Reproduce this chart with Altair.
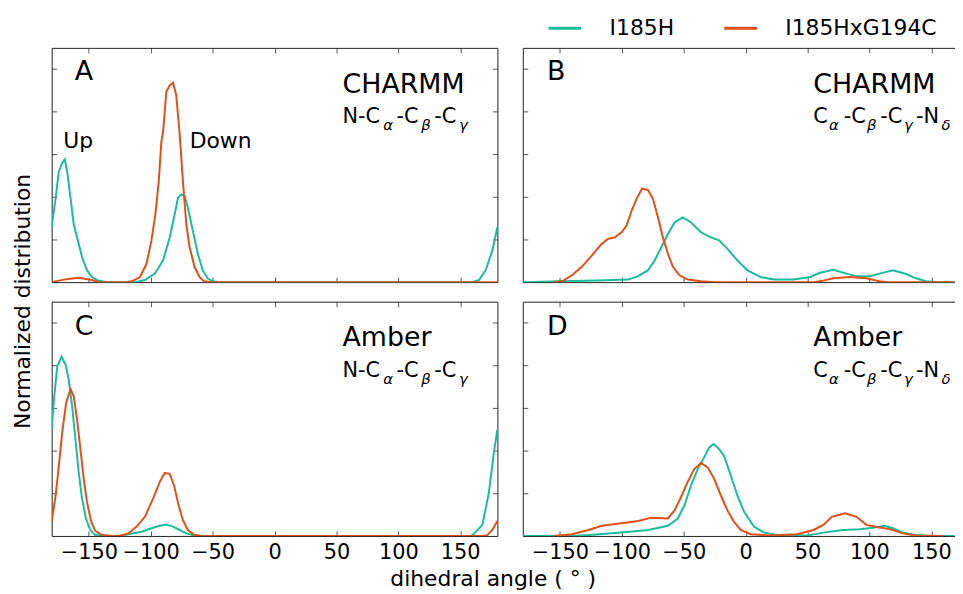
import altair as alt
import pandas as pd

FONT = "DejaVu Sans"
SERIES = ["I185H", "I185HxG194C"]
COLORS = ["#1abc9c", "#e0501a"]

# ---------------- data (dihedral angle in degrees, normalized distribution in tick units) ----------------
# Panel A: CHARMM, N-Ca-Cb-Cg
A_teal_x = [-180, -176.8, -174.2, -171.5, -169.4, -167.5, -164.8, -162.2, -158.2, -155.5, -151.5, -147.5,
            -142, -135, -112, -104.7, -96.7, -90, -84.7, -80.6, -78, -75.3, -72.6, -70, -66, -62, -58, -54,
            -50, -45, 160, 165.2, 170.5, 175.9, 180]
A_teal_y = [1.29, 1.98, 2.60, 2.80, 2.88, 2.60, 1.98, 1.36, 0.90, 0.59, 0.28, 0.12,
            0.03, 0.0, 0.0, 0.05, 0.20, 0.51, 1.05, 1.60, 1.98, 2.06, 2.02, 1.75, 1.21, 0.67, 0.28, 0.09,
            0.02, 0.0, 0.0, 0.05, 0.28, 0.74, 1.29]
A_orange_x = [-180, -175, -168, -158.2, -147.5, -142, -120, -115.4, -108.7, -103.4, -99.4, -96.2, -93.5,
              -91.4, -90, -87.4, -84.7, -82, -79.4, -76.7, -74, -71.3, -68.6, -64.6, -60.6, -57, -50, 180]
A_orange_y = [0.0, 0.03, 0.07, 0.10, 0.05, 0.0, 0.0, 0.02, 0.12, 0.43, 0.98, 1.60, 2.37,
              3.30, 3.53, 4.47, 4.62, 4.68, 4.39, 3.50, 2.37, 1.36, 0.82, 0.36, 0.12, 0.02, 0.0, 0.0]

# Panel B: CHARMM, Ca-Cb-Cg-Nd
B_teal_x = [-180, -150, -120, -95, -86.8, -78.8, -73.5, -68.1, -62.8, -57.4, -50.8, -44.1, -36.1, -28.1,
            -21.4, -14.7, -6.7, 1.3, 12, 22.7, 38.8, 52.1, 60.1, 70.8, 81.5, 89.5, 100.2, 108.2, 118.9,
            129.6, 137.6, 145.6, 155, 180]
B_teal_y = [0.0, 0.02, 0.04, 0.06, 0.14, 0.28, 0.51, 0.82, 1.13, 1.40, 1.52, 1.40, 1.17, 1.05,
            0.98, 0.78, 0.51, 0.28, 0.12, 0.06, 0.06, 0.12, 0.22, 0.29, 0.20, 0.14, 0.14, 0.20, 0.28,
            0.19, 0.09, 0.02, 0.0, 0.0]
B_orange_x = [-155, -148.3, -140.3, -132.3, -124.2, -116.2, -110.9, -105.6, -100.2, -96.2, -92.2, -88.2,
              -83.6, -78.8, -74.8, -70.8, -66.8, -62.8, -58.8, -53.4, -46.8, -36, -25, 55, 62, 70.8, 84.2,
              97.6, 108, 115, 180]
B_orange_y = [0.0, 0.02, 0.16, 0.36, 0.63, 0.90, 1.02, 1.05, 1.17, 1.33, 1.67, 1.95,
              2.20, 2.16, 1.95, 1.52, 1.05, 0.67, 0.36, 0.16, 0.06, 0.02, 0.0, 0.0, 0.03, 0.09, 0.12,
              0.09, 0.02, 0.0, 0.0]

# Panel C: Amber, N-Ca-Cb-Cg
C_teal_x = [-180, -178.2, -175.5, -172, -168.8, -166.2, -163.5, -160.8, -158.2, -155.5, -152.3, -148.8,
            -144.8, -135, -125, -118, -107.4, -99.4, -92.7, -87.4, -82, -76.6, -71.3, -66, -60, 158,
            159.8, 167.9, 173.2, 177.2, 180]
C_teal_y = [2.50, 3.20, 3.98, 4.21, 4.02, 3.67, 3.05, 2.27, 1.50, 0.88, 0.41, 0.14,
            0.02, 0.0, 0.0, 0.04, 0.10, 0.18, 0.24, 0.27, 0.22, 0.14, 0.06, 0.02, 0.0, 0.0,
            0.02, 0.26, 1.03, 1.96, 2.50]
C_orange_x = [-180, -176.8, -174.2, -171.5, -168.3, -164.8, -162.2, -159.5, -156.8, -154.1, -151.5, -148,
              -144.8, -139.5, -130, -124, -118, -111.4, -104.7, -98, -92.7, -88.7, -84.7, -81.2, -77.5,
              -74, -70, -64.6, -58, 168, 171.9, 175.9, 180]
C_orange_y = [0.33, 0.95, 1.65, 2.43, 3.13, 3.45, 3.28, 2.74, 2.04, 1.34, 0.80, 0.33,
              0.12, 0.02, 0.0, 0.01, 0.06, 0.22, 0.45, 0.88, 1.27, 1.48, 1.46, 1.19, 0.72,
              0.37, 0.14, 0.02, 0.0, 0.0, 0.02, 0.14, 0.35]

# Panel D: Amber, Ca-Cb-Cg-Nd
D_teal_x = [-180, -140, -126.9, -100.2, -78.8, -62.8, -54.8, -49.4, -44.1, -38.7, -33.4, -29.4, -25.9,
            -21.4, -17.4, -12, -6.7, -1.3, 6.7, 14.7, 24, 49.4, 65.5, 78.8, 92.2, 102.9, 112.2, 118.9,
            126.9, 137.6, 150, 180]
D_teal_y = [0.0, 0.0, 0.02, 0.08, 0.14, 0.24, 0.41, 0.72, 1.19, 1.57, 1.85, 2.08, 2.16,
            2.04, 1.88, 1.42, 0.95, 0.57, 0.22, 0.08, 0.03, 0.01, 0.09, 0.14, 0.16, 0.19, 0.24, 0.18,
            0.08, 0.02, 0.0, 0.0]
D_orange_x = [-155, -140.3, -126.9, -116.2, -100.2, -86.8, -76.2, -62.8, -57.4, -52.1, -46.8, -41.4,
              -36.1, -30.7, -25.4, -20, -14.7, -9.4, -4, 4, 20, 41.4, 54.8, 62.8, 69.5, 80.2, 89.5, 97.6,
              108.2, 116.2, 126.9, 137, 160]
D_orange_y = [0.0, 0.04, 0.14, 0.24, 0.30, 0.35, 0.43, 0.41, 0.60, 0.92, 1.27, 1.57,
              1.71, 1.61, 1.34, 0.95, 0.60, 0.33, 0.14, 0.04, 0.01, 0.04, 0.14, 0.26, 0.45, 0.53, 0.45, 0.26,
              0.20, 0.16, 0.06, 0.01, 0.0]

PANEL_LETTERS = ["A", "B", "C", "D"]
FORCE_FIELDS = ["CHARMM", "CHARMM", "Amber", "Amber"]
DIHEDRAL_LEFT = [("N-C", "α"), ("-C", "β"), ("-C", "γ")]
DIHEDRAL_RIGHT = [("C", "α"), ("-C", "β"), ("-C", "γ"), ("-N", "δ")]
STATE_LABELS = ["Up", "Down"]
X_TITLE = "dihedral angle ( ° )"
Y_TITLE = "Normalized distribution"

XTICKS = [-150, -100, -50, 0, 50, 100, 150]
YTICKS = [1, 2, 3, 4, 5]

# ---------------- layout ----------------
W_LEFT = 449
W_RIGHT = 435
H = 236
X_MAX_RIGHT = -180 + W_RIGHT * 360 / W_LEFT
Y_DOMAIN = [0, 5.5]

color = alt.Color(
    "series:N",
    scale=alt.Scale(domain=SERIES, range=COLORS),
    legend=alt.Legend(
        title=None, orient="none", legendX=499, legendY=-37.7, direction="horizontal", columns=2,
        symbolType="stroke", symbolSize=1089, symbolStrokeWidth=3, labelFontSize=22, labelFont=FONT,
        labelColor="black", labelOffset=27, columnPadding=43, padding=0,
    ),
)


def frame_axis(orient, offset, values, domain=True):
    return alt.Axis(orient=orient, offset=offset, values=values, labels=False, title=None, grid=False,
                    ticks=True, tickSize=5, tickColor="#555555", tickWidth=1,
                    domain=domain, domainColor="#222222", domainWidth=1)


def text_layer(s, x, y, size, italic=False):
    return alt.Chart(pd.DataFrame({"t": [s]})).mark_text(
        x=x, y=y, fontSize=size, font=FONT, align="left", baseline="alphabetic", color="black",
        fontStyle="italic" if italic else "normal",
    ).encode(text="t:N")


def dihedral_layers(pieces, offsets, x0, y0):
    layers = []
    i = 0
    for main, sub in pieces:
        layers.append(text_layer(main, x0 + offsets[i], y0, 21))
        layers.append(text_layer(sub, x0 + offsets[i + 1], y0 + 6.5, 15, italic=True))
        i += 2
    return layers


def panel(tx, ty, ox, oy, width, xmax, bottom_axis, y_axis, texts, right_frame):
    df_t = pd.DataFrame({"angle": tx, "value": ty, "series": SERIES[0]})
    df_o = pd.DataFrame({"angle": ox, "value": oy, "series": SERIES[1]})
    xs = alt.Scale(domain=[-180, xmax], nice=False, zero=False)
    ys = alt.Scale(domain=Y_DOMAIN, nice=False, zero=False)
    teal = alt.Chart(df_t).mark_line(strokeWidth=2, clip=True).encode(
        x=alt.X("angle:Q", scale=xs, axis=bottom_axis),
        y=alt.Y("value:Q", scale=ys, axis=y_axis),
        color=color,
    )
    orange = alt.Chart(df_o).mark_line(strokeWidth=2, clip=True).encode(
        x=alt.X("angle:Q", scale=xs, axis=None),
        y=alt.Y("value:Q", scale=ys, axis=None),
        color=color,
    )
    ticks1 = alt.Chart(df_t).mark_line(strokeOpacity=0, clip=True).encode(
        x=alt.X("angle:Q", scale=xs, axis=frame_axis("top", -H, XTICKS)),
        y=alt.Y("value:Q", scale=ys, axis=frame_axis("right", -width, YTICKS)),
    )
    ticks2 = alt.Chart(df_t).mark_line(strokeOpacity=0, clip=True).encode(
        x=alt.X("angle:Q", scale=xs, axis=frame_axis("bottom", -H, XTICKS)),
        y=alt.Y("value:Q", scale=ys,
                axis=frame_axis("left", -width, YTICKS) if right_frame else None),
    )
    return alt.layer(teal, orange, ticks1, ticks2, *texts).resolve_axis(
        x="independent", y="independent").properties(width=width, height=H)


def label_axis(title=None):
    kw = dict(values=XTICKS, ticks=False, tickSize=0, domain=False, grid=False, labelFontSize=21,
              labelFont=FONT, labelColor="black", labelPadding=22.3, labelBaseline="alphabetic",
              labelOverlap=False, labelFlush=False, labelBound=False)
    if title is None:
        return alt.Axis(title=None, **kw)
    return alt.Axis(title=title, titleFontSize=22, titleFont=FONT, titleFontWeight="normal",
                    titleColor="black", titleX=444.3, titleY=50.3, titleAlign="center",
                    titleBaseline="alphabetic", titleAngle=0, **kw)


y_title_axis = alt.Axis(title=Y_TITLE, labels=False, ticks=False, domain=False, grid=False,
                        titleFontSize=22, titleFont=FONT, titleFontWeight="normal", titleColor="black",
                        titleX=-22.7, titleY=255, titleAngle=270, titleAlign="center",
                        titleBaseline="alphabetic")

OFF_L = [0, 41, 54.3, 79.3, 92.3, 117.3]
OFF_R = [0, 15.7, 30.7, 54, 67.3, 91.3, 103.3, 129]

texts_A = [text_layer(PANEL_LETTERS[0], 23.3, 32.6, 27), text_layer(FORCE_FIELDS[0], 293, 45, 27),
           text_layer(STATE_LABELS[0], 11.6, 101, 22), text_layer(STATE_LABELS[1], 139, 101, 22)]
texts_A += dihedral_layers(DIHEDRAL_LEFT, OFF_L, 293, 76)
texts_B = [text_layer(PANEL_LETTERS[1], 24.4, 32.6, 27), text_layer(FORCE_FIELDS[1], 292.7, 45, 27)]
texts_B += dihedral_layers(DIHEDRAL_RIGHT, OFF_R, 292.7, 76)
texts_C = [text_layer(PANEL_LETTERS[2], 23.3, 33.3, 27), text_layer(FORCE_FIELDS[2], 293, 44.3, 27)]
texts_C += dihedral_layers(DIHEDRAL_LEFT, OFF_L, 293, 76)
texts_D = [text_layer(PANEL_LETTERS[3], 24.4, 33.3, 27), text_layer(FORCE_FIELDS[3], 292.7, 44.3, 27)]
texts_D += dihedral_layers(DIHEDRAL_RIGHT, OFF_R, 292.7, 76)

pA = panel(A_teal_x, A_teal_y, A_orange_x, A_orange_y, W_LEFT, 180, None, y_title_axis, texts_A, True)
pB = panel(B_teal_x, B_teal_y, B_orange_x, B_orange_y, W_RIGHT, X_MAX_RIGHT, None, None, texts_B, False)
pC = panel(C_teal_x, C_teal_y, C_orange_x, C_orange_y, W_LEFT, 180, label_axis(X_TITLE), None, texts_C, True)
pD = panel(D_teal_x, D_teal_y, D_orange_x, D_orange_y, W_RIGHT, X_MAX_RIGHT, label_axis(), None, texts_D, False)

chart = alt.concat(
    pA, pB, pC, pD, columns=2, spacing={"row": 19.7, "column": 25.6}, bounds="flush", align="each"
).properties(
    padding={"left": 3, "top": 0, "right": 0, "bottom": 0}
).configure(font=FONT).configure_view(stroke=None)

chart.save("out.html", embed_options={"renderer": "svg", "actions": False})
